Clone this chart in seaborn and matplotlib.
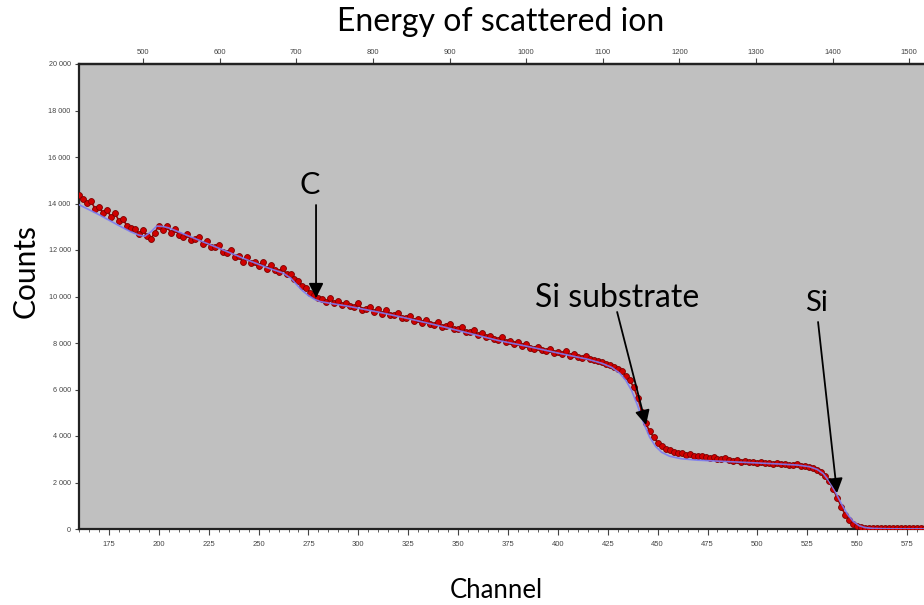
import numpy as np
import pandas as pd
import matplotlib
matplotlib.use("Agg")
import matplotlib.pyplot as plt
from matplotlib.ticker import FixedLocator, MultipleLocator, FuncFormatter
import seaborn as sns

# Measured RBS spectrum (counts per channel, every second channel)
meas_channel = list(range(160, 585, 2))
meas_counts = [
    14350, 14180, 14020, 14110, 13780, 13850, 13600, 13740, 13420, 13600,
    13250, 13320, 13050, 12950, 12920, 12700, 12860, 12600, 12480, 12750,
    13050, 12880, 13020, 12740, 12900, 12650, 12560, 12700, 12440, 12470,
    12560, 12260, 12380, 12120, 12110, 12210, 11900, 11850, 11990, 11720,
    11740, 11500, 11700, 11430, 11470, 11300, 11500, 11200, 11340, 11120,
    11060, 11230, 10960, 10950, 10760, 10680, 10440, 10380, 10150, 10080,
    9940, 9880, 9760, 9950, 9700, 9820, 9620, 9740, 9580, 9560,
    9700, 9440, 9460, 9560, 9340, 9450, 9260, 9400, 9220, 9200,
    9270, 9090, 9060, 9170, 8950, 9030, 8880, 8990, 8820, 8790,
    8900, 8700, 8720, 8800, 8590, 8620, 8690, 8470, 8470, 8560,
    8350, 8430, 8270, 8310, 8170, 8150, 8260, 8050, 8070, 7950,
    8040, 7850, 7950, 7800, 7740, 7840, 7680, 7640, 7750, 7570,
    7610, 7520, 7640, 7460, 7530, 7400, 7370, 7450, 7300, 7290,
    7220, 7190, 7110, 7060, 6970, 6900, 6780, 6600, 6400, 6100,
    5650, 5050, 4550, 4200, 3950, 3720, 3560, 3450, 3380, 3330,
    3280, 3250, 3200, 3230, 3150, 3120, 3150, 3080, 3060, 3100,
    3030, 3000, 3040, 2960, 2940, 2980, 2900, 2930, 2870, 2890,
    2850, 2880, 2830, 2860, 2800, 2820, 2780, 2810, 2760, 2740,
    2780, 2730, 2700, 2680, 2620, 2540, 2450, 2300, 2050, 1700,
    1350, 950, 620, 380, 220, 130, 80, 60, 50, 55,
    45, 40, 50, 40, 45, 35, 40, 45, 35, 40,
    38, 42, 40,
]
assert len(meas_channel) == len(meas_counts)

# Simulated spectrum
sim_channel = [160, 170, 180, 186, 190, 193, 196, 199, 202, 205, 215, 230, 245,
               255, 262, 266, 269, 272, 275, 278, 281, 285, 295, 310, 325, 340,
               355, 370, 385, 400, 415, 422, 427, 431, 434, 437, 440, 443, 446,
               449, 452, 456, 462, 470, 480, 495, 510, 520, 526, 530, 533, 536,
               539, 542, 545, 548, 551, 554, 558, 565, 575, 586]
sim_counts = [13950, 13520, 13050, 12780, 12640, 12590, 12780, 13030, 13010,
              12950, 12600, 12080, 11550, 11220, 11020, 10800, 10520, 10250,
              10040, 9880, 9780, 9720, 9580, 9330, 9050, 8750, 8430, 8110,
              7850, 7570, 7300, 7130, 6950, 6700, 6400, 5950, 5300, 4550,
              3950, 3550, 3300, 3130, 3020, 2960, 2920, 2860, 2800, 2750,
              2680, 2560, 2380, 2050, 1600, 1100, 650, 330, 140, 60, 25, 10,
              5, 5]

# Axis ticks
y_ticks = [0, 2000, 4000, 6000, 8000, 10000, 12000, 14000, 16000, 18000, 20000]
x_ticks = [175, 200, 225, 250, 275, 300, 325, 350, 375, 400, 425, 450, 475,
           500, 525, 550, 575]
energy_ticks = [500, 600, 700, 800, 900, 1000, 1100, 1200, 1300, 1400, 1500]

# Peak annotations: label, text position, arrow start, arrow tip
ann_labels = ["C", "Si substrate", "Si"]
ann_text_xy = [(275.8, 14800), (429.7, 9935), (529.4, 9720)]
ann_start_xy = [(278.8, 13935), (429.7, 9333), (530.4, 8903)]
ann_tip_xy = [(278.8, 9935), (444.2, 4473), (539.9, 1548)]

# Energy calibration (keV per channel)
E0, CH0, GAIN = 500.0, 192.1, 2.604

def ch_to_e(c):
    return E0 + (np.asarray(c, dtype=float) - CH0) * GAIN

def e_to_ch(e):
    return CH0 + (np.asarray(e, dtype=float) - E0) / GAIN

meas = pd.DataFrame({"Channel": meas_channel, "Counts": meas_counts})
sim = pd.DataFrame({"Channel": sim_channel, "Counts": sim_counts})

sns.set_style("white")
label_font = ["Lato", "DejaVu Sans"]
tick_font = ["Liberation Sans", "DejaVu Sans"]

W, H = 924, 605
fig = plt.figure(figsize=(W / 100, H / 100), dpi=100)
fig.patch.set_facecolor("white")
ax = fig.add_axes([79 / W, 76 / H, 851 / W, 465 / H])
ax.set_facecolor("#C0C0C0")

sns.lineplot(data=meas, x="Channel", y="Counts", ax=ax, color="#A00000",
             linewidth=1.2, zorder=3)
sns.scatterplot(data=meas, x="Channel", y="Counts", ax=ax, s=18,
                color="#D00000", edgecolor="#7A0000", linewidth=0.6, zorder=4)
sns.lineplot(data=sim, x="Channel", y="Counts", ax=ax, color="#7C7CF2",
             linewidth=1.2, alpha=0.9, zorder=5)

ax.set_xlim(160, 586.5)
ax.set_ylim(0, 20000)

# Bottom axis
ax.xaxis.set_major_locator(FixedLocator(x_ticks))
ax.xaxis.set_minor_locator(MultipleLocator(5))
ax.tick_params(axis="x", which="major", bottom=True, length=4, width=0.8,
               color="#444444", labelsize=5.5, labelcolor="#444444", pad=5)
ax.tick_params(axis="x", which="minor", bottom=True, length=2, width=0.6,
               color="#444444")
# Left axis
ax.yaxis.set_major_locator(FixedLocator(y_ticks))
ax.yaxis.set_major_formatter(FuncFormatter(
    lambda v, p: f"{int(v):,}".replace(",", " ")))
ax.tick_params(axis="y", which="major", left=True, length=3, width=0.8,
               color="#444444", labelsize=5.2, labelcolor="#444444", pad=3)
for lab in ax.get_xticklabels() + ax.get_yticklabels():
    lab.set_family(tick_font)

for side, sp in ax.spines.items():
    sp.set_color("#222222")
    sp.set_linewidth(1.6)

# Top energy axis
top = ax.secondary_xaxis("top", functions=(ch_to_e, e_to_ch))
top.set_xticks(energy_ticks)
top.tick_params(axis="x", which="major", length=4, width=0.8,
                color="#444444", labelsize=5.5, labelcolor="#444444", pad=2)
top.xaxis.set_minor_locator(FixedLocator([]))
for lab in top.get_xticklabels():
    lab.set_family(tick_font)
top.spines["top"].set_linewidth(1.6)
top.spines["top"].set_color("#222222")

fig.text(501 / W, 1 - 22 / H, "Energy of scattered ion", fontsize=23,
         family=label_font, color="black", ha="center", va="center")

ax.set_xlabel("Channel", fontsize=18.5, family=label_font, color="black")
ax.xaxis.set_label_coords((496 - 79) / 851, (529 - 591) / 465)
ax.xaxis.label.set_va("center")

ax.set_ylabel("Counts", fontsize=21.5, family=label_font, color="black")
ax.yaxis.set_label_coords((26 - 79) / 851, (529 - 271) / 465)
ax.yaxis.label.set_va("center")

ann_sizes = [22, 23, 21]
for lab, txy, sxy, pxy, fs in zip(ann_labels, ann_text_xy, ann_start_xy,
                                  ann_tip_xy, ann_sizes):
    ax.text(txy[0], txy[1], lab, fontsize=fs, family=label_font,
            ha="center", va="center", color="black", zorder=7)
    ax.annotate("", xy=pxy, xytext=sxy,
                arrowprops=dict(arrowstyle="-|>", color="black", lw=1.3,
                                mutation_scale=22, shrinkA=0, shrinkB=0),
                zorder=6)

fig.savefig("out.png", dpi=100)
